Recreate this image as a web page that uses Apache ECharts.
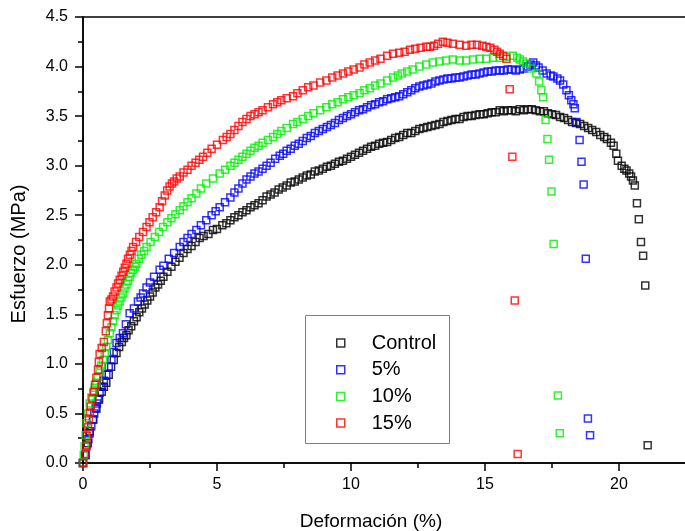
<!DOCTYPE html>
<html>
<head>
<meta charset="utf-8">
<script src="https://cdn.jsdelivr.net/npm/echarts@6/dist/echarts.min.js"></script>
<style>html,body{margin:0;padding:0;background:#fff}#c{width:685px;height:531px}</style>
</head>
<body>
<div id="c"></div>
<script>
const seriesNames = ['Control', '5%', '10%', '15%'];
const xTicks = [0, 5, 10, 15, 20];
const yTicks = [0.0, 0.5, 1.0, 1.5, 2.0, 2.5, 3.0, 3.5, 4.0, 4.5];

const controlData = [
[0.0,0.0],[0.1,0.08],[0.18,0.2],[0.25,0.32],[0.38,0.44],[0.5,0.55],[0.6,0.64],[0.7,0.72],[0.78,0.77],[0.87,0.81],
[0.96,0.89],[1.05,0.97],[1.15,1.04],[1.25,1.11],[1.35,1.17],[1.45,1.22],[1.53,1.26],[1.62,1.29],[1.7,1.34],[1.8,1.38],
[1.9,1.43],[2.0,1.47],[2.1,1.52],[2.2,1.56],[2.3,1.60],[2.4,1.64],[2.5,1.68],[2.6,1.72],[2.7,1.77],[2.8,1.80],
[2.9,1.84],[3.0,1.88],[3.15,1.93],[3.3,1.98],[3.45,2.03],[3.6,2.07],[3.75,2.12],[3.9,2.16],[4.05,2.19],[4.2,2.23],
[4.35,2.27],[4.5,2.29],[4.68,2.31],[4.85,2.35],[5.0,2.36],[5.2,2.40],[5.35,2.42],[5.5,2.45],[5.65,2.48],[5.8,2.50],
[5.95,2.53],[6.1,2.55],[6.25,2.58],[6.4,2.60],[6.55,2.62],[6.7,2.65],[6.85,2.69],[7.0,2.71],[7.15,2.73],[7.3,2.76],
[7.45,2.78],[7.6,2.80],[7.75,2.83],[7.9,2.84],[8.05,2.86],[8.2,2.88],[8.35,2.90],[8.5,2.91],[8.65,2.94],[8.8,2.95],
[8.95,2.97],[9.1,2.99],[9.25,3.00],[9.4,3.02],[9.55,3.04],[9.7,3.05],[9.85,3.07],[10.0,3.09],[10.15,3.11],[10.3,3.13],
[10.45,3.15],[10.6,3.17],[10.75,3.19],[10.9,3.20],[11.05,3.22],[11.2,3.23],[11.35,3.24],[11.5,3.26],[11.65,3.28],[11.8,3.29],
[11.95,3.31],[12.1,3.33],[12.25,3.33],[12.4,3.35],[12.55,3.37],[12.7,3.38],[12.85,3.39],[13.0,3.40],[13.15,3.41],[13.3,3.42],
[13.45,3.44],[13.6,3.45],[13.75,3.46],[13.9,3.47],[14.05,3.47],[14.2,3.49],[14.35,3.50],[14.5,3.50],[14.65,3.51],[14.8,3.52],
[14.95,3.52],[15.1,3.53],[15.25,3.54],[15.4,3.54],[15.55,3.56],[15.7,3.55],[15.85,3.56],[16.0,3.56],[16.15,3.55],[16.3,3.57],
[16.45,3.56],[16.6,3.57],[16.75,3.57],[16.9,3.56],[17.05,3.55],[17.2,3.55],[17.35,3.53],[17.5,3.52],[17.65,3.51],[17.8,3.49],
[17.95,3.48],[18.1,3.46],[18.25,3.44],[18.4,3.43],[18.55,3.42],[18.7,3.40],[18.85,3.38],[19.0,3.36],[19.15,3.34],[19.3,3.31],
[19.45,3.29],[19.55,3.27],[19.7,3.23],[19.8,3.20],[19.9,3.12],[19.96,3.05],[20.1,3.00],[20.2,2.97],[20.28,2.95],[20.38,2.92],
[20.45,2.89],[20.52,2.85],[20.59,2.80],[20.67,2.62],[20.74,2.46],[20.82,2.23],[20.9,2.09],[20.98,1.79],[21.07,0.18]
];

const pct5Data = [
[0.0,0.0],[0.08,0.08],[0.13,0.17],[0.2,0.24],[0.25,0.30],[0.31,0.37],[0.37,0.44],[0.42,0.50],[0.47,0.55],[0.52,0.60],
[0.56,0.64],[0.62,0.71],[0.69,0.77],[0.78,0.83],[0.87,0.89],[0.96,0.97],[1.06,1.04],[1.15,1.12],[1.25,1.21],[1.37,1.26],
[1.49,1.31],[1.6,1.40],[1.74,1.51],[1.9,1.56],[2.05,1.63],[2.15,1.67],[2.24,1.71],[2.37,1.77],[2.5,1.82],[2.65,1.88],
[2.86,1.95],[3.0,1.99],[3.2,2.06],[3.4,2.12],[3.61,2.18],[3.75,2.23],[3.9,2.27],[4.05,2.31],[4.23,2.35],[4.4,2.40],
[4.6,2.45],[4.8,2.50],[4.95,2.54],[5.1,2.58],[5.3,2.63],[5.5,2.68],[5.65,2.73],[5.8,2.77],[5.95,2.82],[6.1,2.86],
[6.25,2.89],[6.4,2.92],[6.55,2.94],[6.7,2.97],[6.85,3.00],[7.0,3.03],[7.17,3.07],[7.34,3.10],[7.47,3.12],[7.6,3.15],
[7.75,3.17],[7.9,3.20],[8.05,3.22],[8.2,3.25],[8.35,3.28],[8.5,3.30],[8.65,3.33],[8.8,3.35],[8.95,3.37],[9.1,3.39],
[9.25,3.41],[9.4,3.43],[9.55,3.46],[9.7,3.48],[9.85,3.50],[10.0,3.52],[10.15,3.54],[10.3,3.56],[10.45,3.57],[10.6,3.59],
[10.75,3.61],[10.9,3.62],[11.05,3.64],[11.2,3.65],[11.35,3.67],[11.5,3.68],[11.65,3.69],[11.8,3.70],[11.95,3.72],[12.1,3.74],
[12.25,3.76],[12.4,3.78],[12.55,3.80],[12.7,3.81],[12.85,3.82],[13.0,3.83],[13.15,3.85],[13.3,3.86],[13.45,3.87],[13.6,3.88],
[13.75,3.88],[13.9,3.89],[14.05,3.89],[14.2,3.90],[14.35,3.91],[14.5,3.92],[14.65,3.92],[14.8,3.93],[14.95,3.94],[15.1,3.95],
[15.25,3.95],[15.4,3.96],[15.55,3.96],[15.7,3.96],[15.85,3.97],[16.0,3.97],[16.15,3.96],[16.3,3.97],[16.45,3.98],[16.6,4.00],
[16.7,4.02],[16.8,4.04],[16.9,4.01],[17.0,3.99],[17.15,3.96],[17.3,3.93],[17.45,3.91],[17.55,3.90],[17.7,3.88],[17.8,3.86],
[17.92,3.82],[18.04,3.76],[18.13,3.71],[18.22,3.66],[18.3,3.62],[18.35,3.58],[18.41,3.44],[18.53,3.26],[18.6,3.04],[18.68,2.81],
[18.76,2.06],[18.84,0.45],[18.92,0.28]
];

const pct10Data = [
[0.0,0.0],[0.03,0.08],[0.06,0.17],[0.1,0.28],[0.13,0.40],[0.19,0.50],[0.25,0.60],[0.31,0.66],[0.38,0.71],[0.44,0.76],
[0.5,0.81],[0.56,0.87],[0.62,0.93],[0.68,0.98],[0.75,1.04],[0.81,1.11],[0.87,1.17],[0.93,1.24],[1.0,1.31],[1.06,1.37],
[1.12,1.43],[1.18,1.49],[1.25,1.54],[1.31,1.59],[1.37,1.63],[1.43,1.67],[1.49,1.71],[1.55,1.76],[1.62,1.80],[1.68,1.84],
[1.74,1.88],[1.8,1.92],[1.87,1.95],[1.93,1.98],[1.99,2.01],[2.08,2.06],[2.18,2.10],[2.28,2.14],[2.37,2.18],[2.52,2.23],
[2.68,2.28],[2.84,2.33],[2.99,2.38],[3.15,2.43],[3.3,2.47],[3.45,2.51],[3.61,2.55],[3.75,2.59],[3.9,2.63],[4.05,2.67],
[4.23,2.72],[4.4,2.77],[4.6,2.82],[4.85,2.87],[5.1,2.92],[5.3,2.96],[5.5,3.00],[5.65,3.03],[5.8,3.06],[5.95,3.09],
[6.1,3.12],[6.25,3.15],[6.4,3.18],[6.55,3.20],[6.7,3.23],[6.9,3.26],[7.09,3.29],[7.25,3.32],[7.4,3.35],[7.6,3.38],
[7.84,3.42],[8.0,3.44],[8.2,3.47],[8.4,3.50],[8.6,3.53],[8.85,3.56],[9.08,3.59],[9.3,3.62],[9.5,3.64],[9.7,3.67],
[9.9,3.69],[10.1,3.71],[10.32,3.73],[10.5,3.76],[10.7,3.78],[10.9,3.81],[11.1,3.83],[11.35,3.86],[11.57,3.89],[11.75,3.91],
[11.9,3.93],[12.1,3.95],[12.3,3.97],[12.55,4.00],[12.81,4.02],[13.05,4.04],[13.3,4.05],[13.55,4.06],[13.8,4.07],[14.05,4.06],
[14.3,4.06],[14.55,4.07],[14.8,4.08],[15.05,4.08],[15.3,4.09],[15.55,4.09],[15.8,4.10],[16.04,4.11],[16.2,4.09],[16.3,4.07],
[16.42,4.05],[16.54,4.03],[16.72,3.98],[16.92,3.93],[17.02,3.85],[17.1,3.76],[17.17,3.69],[17.26,3.46],[17.33,3.27],[17.39,3.06],
[17.48,2.74],[17.56,2.21],[17.72,0.68],[17.79,0.30]
];

const pct15Data = [
[0.0,0.0],[0.1,0.09],[0.13,0.18],[0.15,0.27],[0.19,0.36],[0.22,0.45],[0.26,0.51],[0.29,0.57],[0.35,0.65],[0.41,0.72],
[0.45,0.79],[0.5,0.86],[0.56,0.94],[0.59,1.02],[0.62,1.10],[0.7,1.16],[0.78,1.22],[0.85,1.33],[0.89,1.41],[0.93,1.49],
[0.97,1.56],[1.0,1.63],[1.06,1.65],[1.12,1.68],[1.18,1.73],[1.25,1.77],[1.31,1.81],[1.37,1.85],[1.44,1.89],[1.5,1.93],
[1.56,1.97],[1.62,2.01],[1.68,2.06],[1.75,2.10],[1.81,2.14],[1.87,2.18],[1.98,2.23],[2.1,2.28],[2.24,2.33],[2.37,2.38],
[2.48,2.43],[2.6,2.48],[2.73,2.53],[2.86,2.58],[2.95,2.64],[3.05,2.70],[3.14,2.75],[3.23,2.79],[3.32,2.82],[3.4,2.84],
[3.5,2.87],[3.61,2.89],[3.75,2.93],[3.9,2.96],[4.05,3.00],[4.2,3.03],[4.34,3.06],[4.48,3.09],[4.64,3.13],[4.8,3.17],
[5.0,3.21],[5.22,3.26],[5.36,3.29],[5.5,3.32],[5.65,3.36],[5.8,3.40],[5.95,3.44],[6.1,3.47],[6.25,3.50],[6.4,3.52],
[6.55,3.54],[6.7,3.56],[6.9,3.59],[7.09,3.62],[7.25,3.64],[7.4,3.66],[7.6,3.68],[7.84,3.70],[8.0,3.73],[8.2,3.76],
[8.4,3.79],[8.6,3.81],[8.85,3.84],[9.08,3.86],[9.3,3.89],[9.5,3.91],[9.7,3.93],[9.9,3.95],[10.1,3.97],[10.32,3.99],
[10.5,4.02],[10.7,4.04],[10.9,4.06],[11.1,4.08],[11.35,4.11],[11.57,4.13],[11.8,4.14],[12.0,4.15],[12.2,4.17],[12.4,4.18],
[12.6,4.19],[12.81,4.20],[12.95,4.20],[13.1,4.21],[13.25,4.23],[13.43,4.25],[13.6,4.24],[13.8,4.23],[14.05,4.22],[14.3,4.21],
[14.5,4.22],[14.7,4.22],[14.9,4.21],[15.05,4.20],[15.2,4.19],[15.35,4.17],[15.45,4.15],[15.55,4.13],[15.68,4.11],[15.8,4.08],
[15.92,3.77],[16.02,3.09],[16.11,1.64],[16.22,0.09]
];

const seriesData = [controlData, pct5Data, pct10Data, pct15Data];
const colors = ['#000000', '#0000ff', '#00ee00', '#ff0000'];
const FONT = 'Liberation Sans, Arial, sans-serif';

const chart = echarts.init(document.getElementById('c'), null, {renderer: 'canvas'});
chart.setOption({
  backgroundColor: '#ffffff',
  animation: false,
  grid: {left: 83, top: 17, right: -1, bottom: 68, show: true, borderColor: '#000', borderWidth: 1.5,
         backgroundColor: 'transparent', containLabel: false, outerBoundsMode: 'none'},
  xAxis: {
    type: 'value', min: xTicks[0], max: 22.5, interval: 5,
    name: 'Deformación (%)', nameLocation: 'middle', nameGap: 49,
    nameTextStyle: {fontFamily: FONT, fontSize: 19, color: '#000', padding: [0, 27, 0, 0]},
    axisLine: {show: true, onZero: false, lineStyle: {color: '#000', width: 1.5}},
    axisTick: {show: true, inside: false, length: 8, lineStyle: {color: '#000', width: 1.5}},
    minorTick: {show: true, splitNumber: 2, length: 5, lineStyle: {color: '#000', width: 1.5}},
    axisLabel: {fontFamily: FONT, fontSize: 16, color: '#000', margin: 14, showMaxLabel: false},
    splitLine: {show: false}
  },
  yAxis: {
    type: 'value', min: yTicks[0], max: yTicks[yTicks.length - 1], interval: 0.5,
    name: 'Esfuerzo (MPa)', nameLocation: 'middle', nameGap: 54, nameRotate: 90,
    nameTextStyle: {fontFamily: FONT, fontSize: 20, color: '#000', padding: [0, 28, 0, 0]},
    axisLine: {show: true, onZero: false, lineStyle: {color: '#000', width: 1.5}},
    axisTick: {show: true, inside: false, length: 8, lineStyle: {color: '#000', width: 1.5}},
    minorTick: {show: true, splitNumber: 2, length: 5, lineStyle: {color: '#000', width: 1.5}},
    axisLabel: {fontFamily: FONT, fontSize: 16, color: '#000', margin: 15, formatter: v => v.toFixed(1)},
    splitLine: {show: false}
  },
  legend: {
    orient: 'vertical', left: 331, top: 327, itemGap: 4.7, z: 20,
    itemWidth: 8, itemHeight: 8,
    textStyle: {fontFamily: FONT, fontSize: 20, color: '#000', lineHeight: 22, padding: [0, 0, 0, 22]},
    data: seriesNames.map((n, i) => ({name: n, icon: 'rect', itemStyle: {color: 'transparent', borderColor: colors[i], borderWidth: 1.5}}))
  },
  graphic: [{
    type: 'rect', left: 305, top: 315, z: 1,
    shape: {width: 144, height: 128},
    style: {fill: '#fff', stroke: '#808080', lineWidth: 1}
  }],
  series: seriesNames.map((n, i) => ({
    name: n, type: 'scatter', symbol: 'rect', symbolSize: 7,
    data: seriesData[i],
    itemStyle: {color: 'transparent', borderColor: colors[i], borderWidth: 1.5},
    emphasis: {disabled: true}
  }))
});
</script>
</body>
</html>
